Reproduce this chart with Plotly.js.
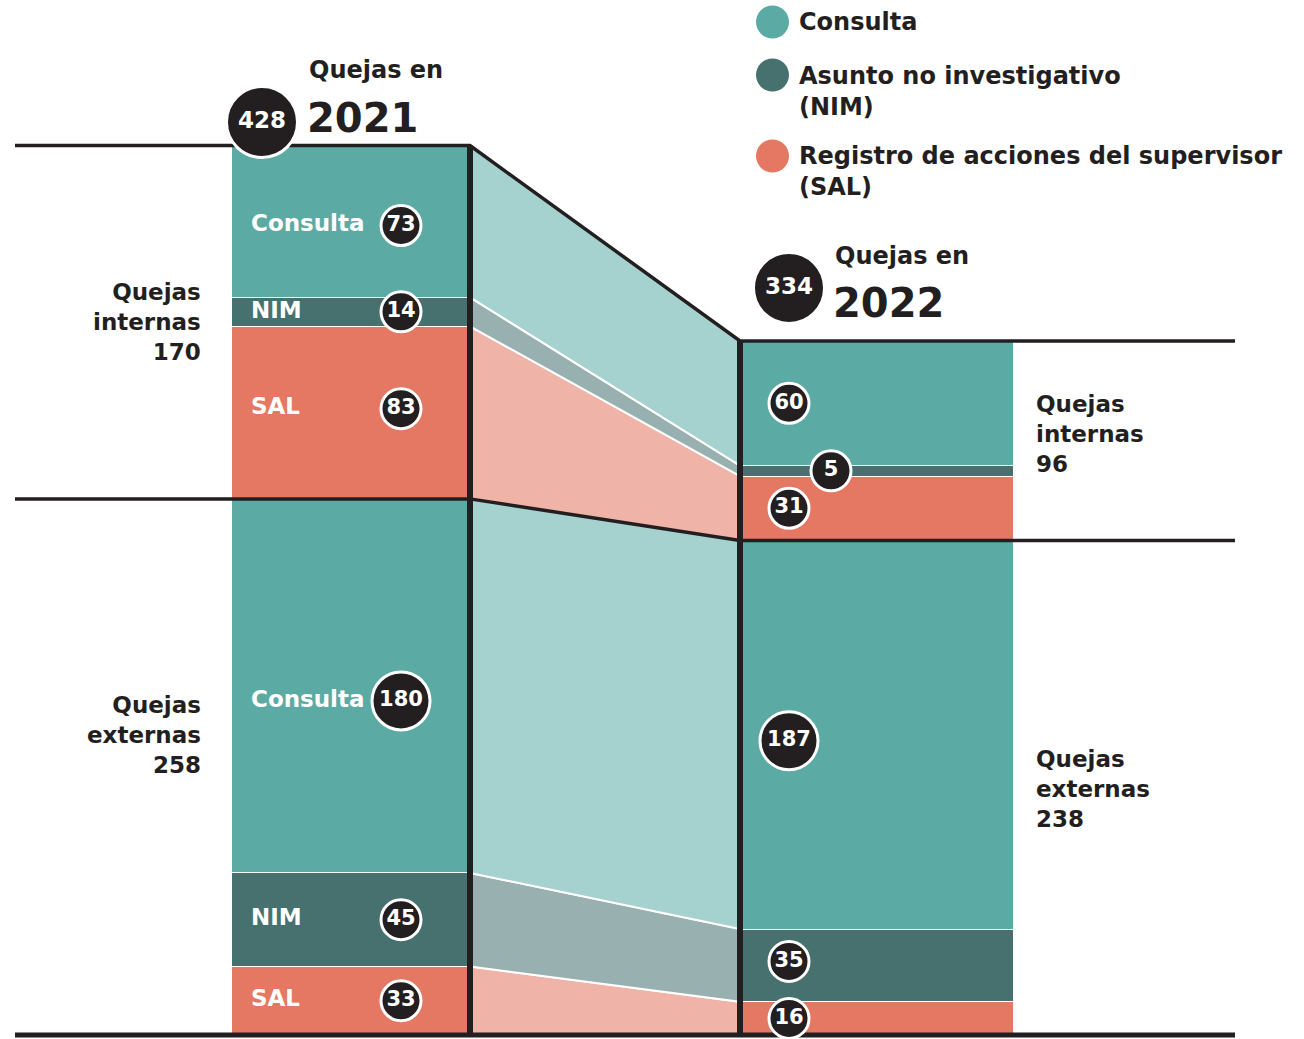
<!DOCTYPE html>
<html>
<head>
<meta charset="utf-8">
<script src="https://cdn.plot.ly/plotly-3.0.1.min.js"></script>
<style>html,body{margin:0;padding:0;background:#fff;}#chart{width:1304px;height:1039px;}</style>
</head>
<body>
<div id="chart"></div>
<script>
// ---- data ----
const years = ['2021', '2022'];
const totals = [428, 334];
const groups = ['Quejas internas', 'Quejas externas'];
const categories = ['Consulta', 'NIM', 'SAL'];
const legendNames = ['Consulta', 'Asunto no investigativo<br>(NIM)', 'Registro de acciones del supervisor<br>(SAL)'];
const internal2021 = [73, 14, 83];
const external2021 = [180, 45, 33];
const internal2022 = [60, 5, 31];
const external2022 = [187, 35, 16];

// ---- style ----
const FONT = 'DejaVu Sans, Open Sans, sans-serif';
const INK = '#231f20';
const colors = {Consulta: '#5baba4', NIM: '#47716e', SAL: '#e57862'};
const light = {Consulta: '#a5d1ce', NIM: '#98b1b0', SAL: '#f0b3a7'};
const S = 2.078;           // px per unit
const BASE_PX = 1035;      // pixel row of zero
const py = p => (BASE_PX - p) / S;
const bar = [{x0: 231, x1: 470}, {x0: 740, x1: 1013}];
const circleX = [401, 789];
const lineLeft = 15, lineRight = 1235;

// stack order from bottom: external SAL, NIM, Consulta, internal SAL, NIM, Consulta
function stack(internal, external) {
  const segs = [];
  let c = 0;
  [['external', external], ['internal', internal]].forEach(([g, arr]) => {
    [2, 1, 0].forEach(i => {
      segs.push({group: g, cat: categories[i], v: arr[i], lo: c, hi: c + arr[i]});
      c += arr[i];
    });
  });
  return segs;
}
const segs = [stack(internal2021, external2021), stack(internal2022, external2022)];
const intSum = [internal2021, internal2022].map(a => a.reduce((p, q) => p + q, 0));
const extSum = [external2021, external2022].map(a => a.reduce((p, q) => p + q, 0));

const traces = [];

// bands between the bars
segs[0].forEach((s, k) => {
  const t = segs[1][k];
  traces.push({
    type: 'scatter', mode: 'lines', fill: 'toself', fillcolor: light[s.cat],
    x: [bar[0].x1, bar[0].x1, bar[1].x0, bar[1].x0, bar[0].x1],
    y: [s.lo, s.hi, t.hi, t.lo, s.lo],
    line: {color: '#ffffff', width: 2}, hoverinfo: 'skip', showlegend: false
  });
});

// stacked bars
segs[0].forEach((s, k) => {
  traces.push({
    type: 'bar',
    x: bar.map(b => (b.x0 + b.x1) / 2),
    width: bar.map(b => b.x1 - b.x0),
    y: [segs[0][k].v, segs[1][k].v],
    marker: {color: colors[s.cat], line: {color: '#ffffff', width: 1}},
    hoverinfo: 'skip', showlegend: false
  });
});

// black structure lines
traces.push({type: 'scatter', mode: 'lines',
  x: [lineLeft, bar[0].x1, bar[1].x0, lineRight], y: [totals[0], totals[0], totals[1], totals[1]],
  line: {color: INK, width: 3.5}, hoverinfo: 'skip', showlegend: false});
traces.push({type: 'scatter', mode: 'lines',
  x: [lineLeft, bar[0].x1, bar[1].x0, lineRight], y: [extSum[0], extSum[0], extSum[1], extSum[1]],
  line: {color: INK, width: 3.5}, hoverinfo: 'skip', showlegend: false});
traces.push({type: 'scatter', mode: 'lines',
  x: [lineLeft, lineRight], y: [0, 0],
  line: {color: INK, width: 5}, hoverinfo: 'skip', showlegend: false});
[0, 1].forEach(i => {
  const xv = i === 0 ? bar[0].x1 : bar[1].x0;
  traces.push({type: 'scatter', mode: 'lines',
    x: [xv, xv], y: [0, totals[i]],
    line: {color: INK, width: 6}, hoverinfo: 'skip', showlegend: false});
});

// small pixel nudges of label placement (positive = down)
const labelNudgePx = {'0-internal-Consulta': 4, '0-internal-SAL': -4, '0-external-Consulta': 15,
                      '1-external-Consulta': 6, '1-external-NIM': -4};
const nudge = (i, s) => (labelNudgePx[i + '-' + s.group + '-' + s.cat] || 0) / S;

// in-bar category labels (2021 only)
traces.push({type: 'scatter', mode: 'text',
  x: segs[0].map(() => 251), y: segs[0].map(s => (s.lo + s.hi) / 2 - nudge(0, s)),
  text: segs[0].map(s => s.cat), textposition: 'middle right',
  textfont: {family: FONT, size: 23, color: '#ffffff', weight: 700},
  hoverinfo: 'skip', showlegend: false});

// value circles
[0, 1].forEach(i => {
  const xs = [], ys = [], tx = [], sz = [];
  segs[i].forEach(s => {
    const thin = i === 1 && s.group === 'internal' && s.cat === 'NIM';
    xs.push(thin ? circleX[i] + 42 : circleX[i]);
    ys.push((s.lo + s.hi) / 2 - nudge(i, s));
    tx.push(String(s.v));
    sz.push(String(s.v).length >= 3 ? 58 : 40);
  });
  traces.push({type: 'scatter', mode: 'markers+text', x: xs, y: ys, text: tx,
    textposition: 'middle center',
    marker: {size: sz, color: INK, opacity: 1, line: {color: '#ffffff', width: 3}},
    textfont: {family: FONT, size: 21, color: '#ffffff', weight: 700},
    hoverinfo: 'skip', showlegend: false});
});

// total circles
const totalPos = [{x: 262, y: 122}, {x: 789, y: 288}];
traces.push({type: 'scatter', mode: 'markers+text',
  x: totalPos.map(p => p.x), y: totalPos.map(p => py(p.y)), text: totals.map(String),
  textposition: 'middle center',
  marker: {size: 71, color: INK, opacity: 1, line: {color: '#ffffff', width: 3}},
  textfont: {family: FONT, size: 23, color: '#ffffff', weight: 700},
  hoverinfo: 'skip', showlegend: false});

// ---- annotations ----
const ann = [];
const txt = (text, x, yPx, size, xanchor, align) => ann.push({
  text, x, y: py(yPx), xref: 'x', yref: 'y', showarrow: false,
  xanchor: xanchor || 'left', yanchor: 'middle', align: align || 'left',
  font: {family: FONT, size, color: INK, weight: 700}
});
txt('Quejas en', 307, 70, 24);
txt(years[0], 305, 118, 40);
txt('Quejas en', 833, 256, 24);
txt(years[1], 831, 303, 40);

const grpLabel = (g, n) => g.split(' ').join('<br>') + '<br>' + n;
txt(grpLabel(groups[0], intSum[0]), 203, 322, 23, 'right', 'right');
txt(grpLabel(groups[1], extSum[0]), 203, 735, 23, 'right', 'right');
txt(grpLabel(groups[0], intSum[1]), 1034, 434, 23, 'left', 'left');
txt(grpLabel(groups[1], extSum[1]), 1034, 789, 23, 'left', 'left');

// legend
const legY = [22, 91, 171];
const legDotY = [22, 75, 156];
const shapes = [];
categories.forEach((c, i) => {
  txt(legendNames[i], 797, legY[i], 24);
  shapes.push({type: 'circle', xref: 'x', yref: 'y',
    x0: 756, x1: 789, y0: py(legDotY[i] + 16.5), y1: py(legDotY[i] - 16.5),
    fillcolor: colors[c], line: {width: 0}});
});

const layout = {
  width: 1304, height: 1039,
  margin: {l: 0, r: 0, t: 0, b: 0},
  paper_bgcolor: '#ffffff', plot_bgcolor: '#ffffff',
  barmode: 'stack', showlegend: false,
  xaxis: {range: [0, 1304], visible: false, fixedrange: true},
  yaxis: {range: [py(1039), py(0)], visible: false, fixedrange: true},
  annotations: ann, shapes: shapes
};
Plotly.newPlot('chart', traces, layout, {displayModeBar: false, staticPlot: true});
</script>
</body>
</html>
